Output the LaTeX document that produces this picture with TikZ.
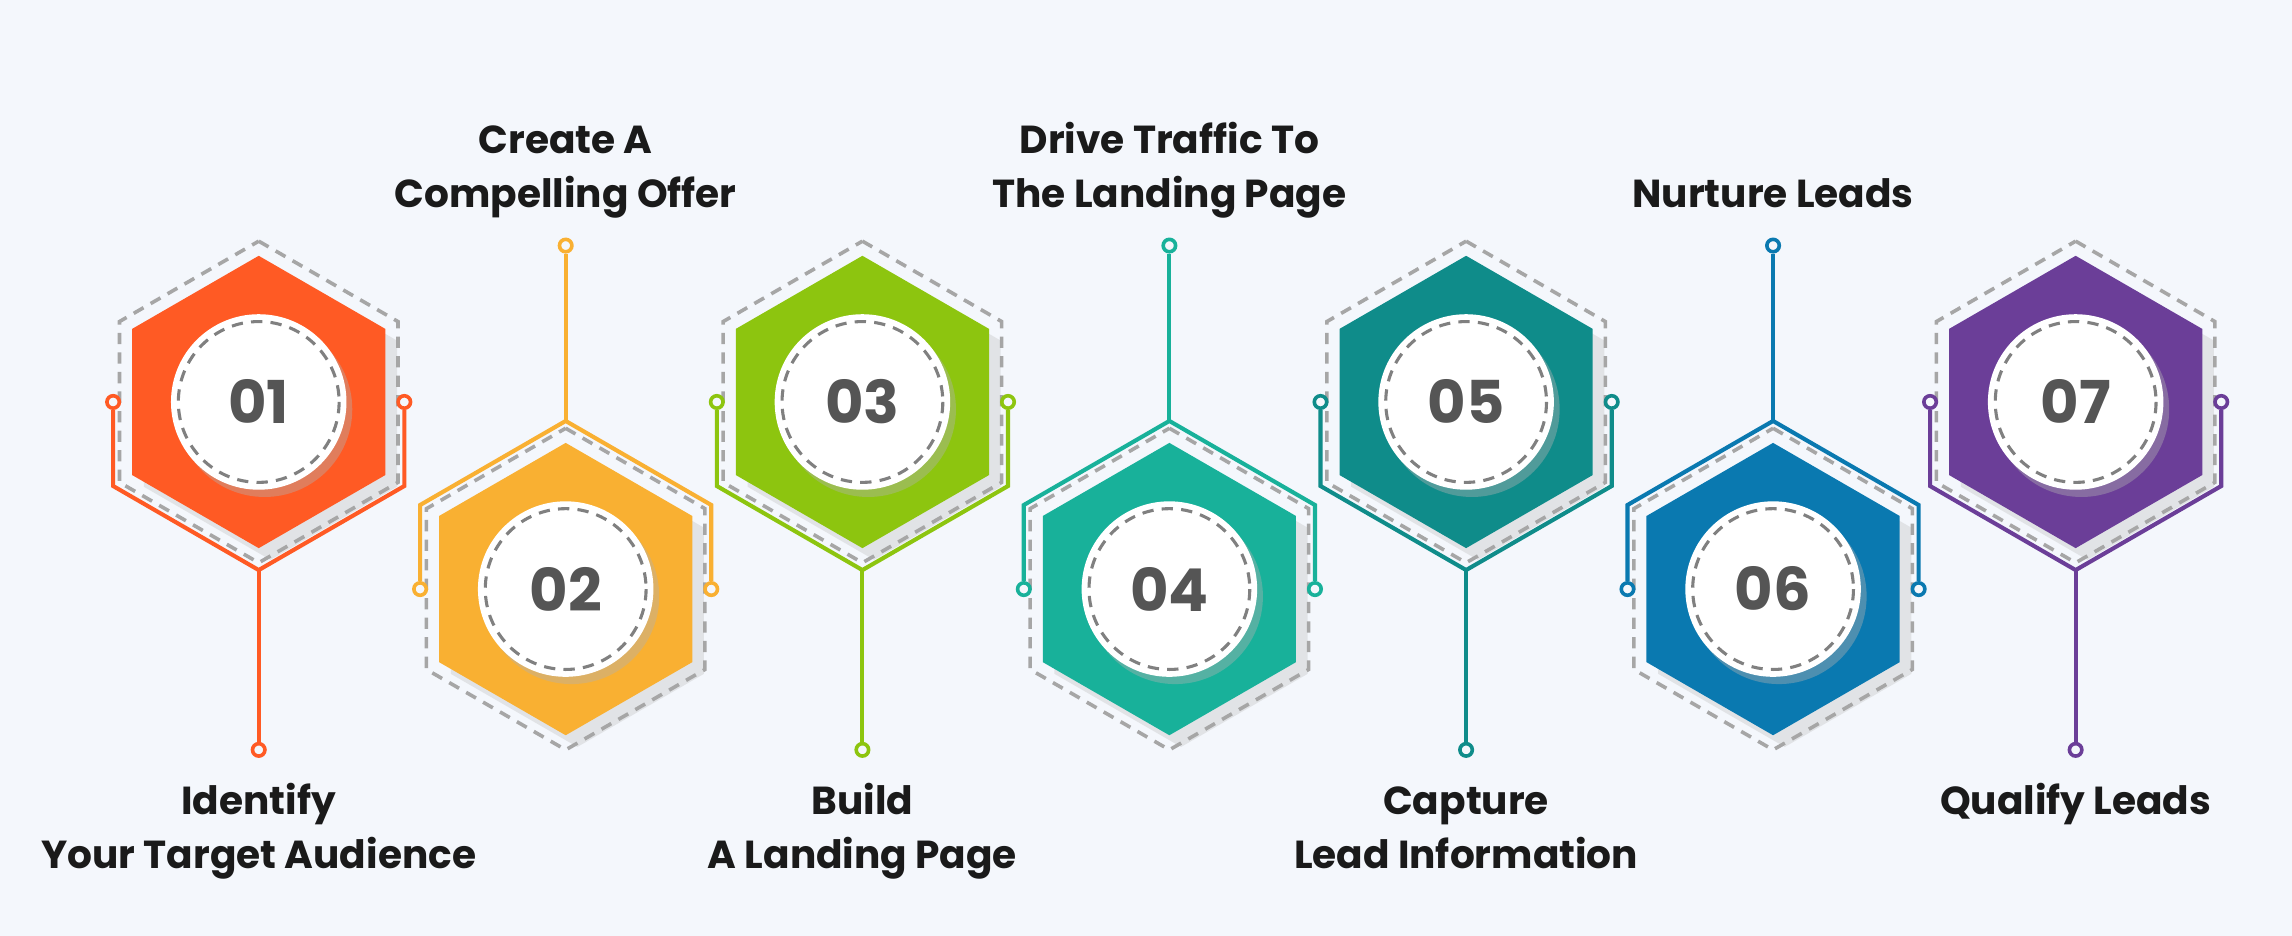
\documentclass[tikz,border=0pt]{standalone}
\usepackage{fontspec}
\setmainfont{Poppins}
\usetikzlibrary{calc}
\definecolor{bg}{HTML}{F4F7FC}
\definecolor{cA}{HTML}{FF5A24}
\definecolor{cB}{HTML}{F9B032}
\definecolor{cC}{HTML}{8DC50F}
\definecolor{cD}{HTML}{18B19A}
\definecolor{cE}{HTML}{0F8C8A}
\definecolor{cF}{HTML}{0A79B0}
\definecolor{cG}{HTML}{6B3E98}
\definecolor{numgray}{HTML}{555555}
\definecolor{txt}{HTML}{1A1A1A}
\tikzset{
  dot/.style={circle,draw=#1,fill=bg,line width=0.7pt,inner sep=0pt,minimum size=0.085cm},
  conn/.style={draw=#1,line width=0.8pt},
  numcirc/.style={circle,fill=white,minimum size=1.2cm,inner sep=0pt,font=\fontsize{11.5}{12}\selectfont\bfseries,text=numgray},
  lab/.style={align=center,font=\fontsize{7.6}{10.5}\selectfont\bfseries,text=txt},
  fdash/.style={dash pattern=on 2.2pt off 1.6pt},
}
\begin{document}
\begin{tikzpicture}[x=0.01cm,y=-0.01cm]
\fill[bg] (0,0) rectangle (1568,640);
\useasboundingbox (0,0) rectangle (1568,640);
\foreach \i/\cx/\up/\ty/\col/\txt in {
 1/177/1/594/cA/{Identify\\Your Target Audience},
 2/387/0/142/cB/{Create A\\Compelling Offer},
 3/590/1/594/cC/{Build\\A Landing Page},
 4/800/0/142/cD/{Drive Traffic To\\The Landing Page},
 5/1003/1/594/cE/{Capture\\Lead Information},
 6/1213/0/142/cF/{Nurture Leads},
 7/1420/1/557/cG/{Qualify Leads}}{
 \ifnum\up=1 \def\cy{275}\else\def\cy{403}\fi
 \fill[black!25,opacity=0.35] ($(\cx,\cy)+(8,8)$) +(90:100) -- +(30:100) -- +(-30:100) -- +(-90:100) -- +(-150:100) -- +(150:100) -- cycle;
 \draw[gray!70,fdash,line width=0.7pt] (\cx,\cy) +(-90:110) -- +(-30:110) -- +(30:110) -- +(90:110) -- +(150:110) -- +(210:110) -- cycle;
 \fill[\col] (\cx,\cy) +(-90:100) -- +(-30:100) -- +(30:100) -- +(90:100) -- +(150:100) -- +(210:100) -- cycle;
 \fill[black!30,opacity=0.4] (\cx+4,\cy+5) circle (60);
 \node[numcirc] (n\i) at (\cx,\cy) {0\i};
 \draw[gray,fdash,line width=0.6pt] (n\i) circle (55);
 \ifnum\up=1
  \coordinate (v\i) at (\cx,\cy+115);
  \node[dot=\col] (l\i) at (\cx-99.6,\cy) {};
  \node[dot=\col] (r\i) at (\cx+99.6,\cy) {};
  \node[dot=\col] (e\i) at (\cx,513) {};
  \draw[conn=\col] (l\i) -- (\cx-99.6,\cy+57.5) -- (v\i) -- (\cx+99.6,\cy+57.5) -- (r\i);
  \draw[conn=\col] (v\i) -- (e\i);
 \else
  \coordinate (v\i) at (\cx,\cy-115);
  \node[dot=\col] (l\i) at (\cx-99.6,\cy) {};
  \node[dot=\col] (r\i) at (\cx+99.6,\cy) {};
  \node[dot=\col] (e\i) at (\cx,168) {};
  \draw[conn=\col] (l\i) -- (\cx-99.6,\cy-57.5) -- (v\i) -- (\cx+99.6,\cy-57.5) -- (r\i);
  \draw[conn=\col] (v\i) -- (e\i);
 \fi
 \node[lab,anchor=base] (t\i) at (\cx,\ty) {\txt};
}
\end{tikzpicture}
\end{document}
